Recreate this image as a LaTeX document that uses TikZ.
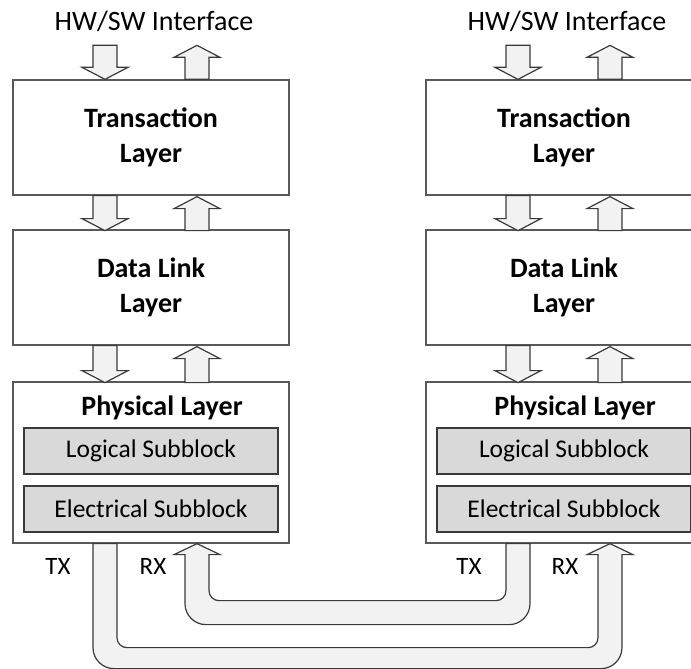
\documentclass[tikz,border=0pt]{standalone}
\usepackage{fontspec}
\setmainfont{Carlito}
\usetikzlibrary{calc}
\definecolor{boxedge}{HTML}{595959}
\definecolor{darkedge}{HTML}{3A3A3A}
\definecolor{afill}{HTML}{F2F2F2}
\definecolor{sfill}{HTML}{D9D9D9}
\tikzset{
  layerbox/.style={draw=boxedge, line width=1.3pt, fill=white, minimum width=276pt, inner sep=0pt, align=center,
    font=\bfseries\fontsize{28}{35}\selectfont},
  subblk/.style={draw=darkedge, fill=sfill, line width=1.3pt, minimum width=254pt, minimum height=46pt, inner sep=0pt,
    font=\fontsize{25.5}{30}\selectfont},
  titletext/.style={inner sep=0pt, font=\bfseries\fontsize{28}{34}\selectfont},
  lbltext/.style={inner sep=0pt, font=\fontsize{28}{34}\selectfont},
  portlbl/.style={inner sep=0pt, font=\fontsize{25}{30}\selectfont},
  blockarrow/.style={draw=darkedge, fill=afill, line width=1.2pt, line join=miter},
  pics/darr/.style={code={\draw[blockarrow] (-12,0) -- (-12,-#1+12) -- (-23,-#1+12) -- (0,-#1) -- (23,-#1+12) -- (12,-#1+12) -- (12,0) -- cycle;}},
  pics/uarr/.style={code={\draw[blockarrow] (0,0) -- (23,-12) -- (12,-12) -- (12,-#1) -- (-12,-#1) -- (-12,-12) -- (-23,-12) -- cycle;}}
}
\begin{document}
\begin{tikzpicture}[x=1pt,y=1pt]
\useasboundingbox (0,0) rectangle (691,669);
\clip (0,0) rectangle (691,669);

% left stack
\node[layerbox, minimum height=115pt] (ltl) at (151,531.5) {Transaction\\Layer};
\node[layerbox, minimum height=115pt] (ldl) at (151,381.5) {Data Link\\Layer};
\node[layerbox, minimum height=161pt] (lph) at (151,206.5) {};
\node[titletext] (lphT) at (162,261) {Physical Layer};
\node[subblk] (llog) at (151,218) {Logical Subblock};
\node[subblk] (lele) at (151,160) {Electrical Subblock};
\node[lbltext] (lif) at (154,648) {HW/SW Interface};
\node[portlbl] (ltxl) at (58,103) {TX};
\node[portlbl] (lrxl) at (153,103) {RX};

% right stack
\node[layerbox, minimum height=115pt] (rtl) at (564,531.5) {Transaction\\Layer};
\node[layerbox, minimum height=115pt] (rdl) at (564,381.5) {Data Link\\Layer};
\node[layerbox, minimum height=161pt] (rph) at (564,206.5) {};
\node[titletext] (rphT) at (575,261) {Physical Layer};
\node[subblk] (rlog) at (564,218) {Logical Subblock};
\node[subblk] (rele) at (564,160) {Electrical Subblock};
\node[lbltext] (rif) at (567,648) {HW/SW Interface};
\node[portlbl] (rtxl) at (469,103) {TX};
\node[portlbl] (rrxl) at (565,103) {RX};

% vertical block arrows
\foreach \s in {l,r}{
  \pic at ($(\s tl.north)+(-46,34)$) {darr=34};
  \pic at ($(\s tl.north)+(46,34)$) {uarr=34};
  \pic at ($(\s tl.south)+(-46,0)$) {darr=35};
  \pic at ($(\s tl.south)+(46,-1)$) {uarr=34};
  \pic at ($(\s dl.south)+(-46,0)$) {darr=37};
  \pic at ($(\s dl.south)+(46,-1)$) {uarr=36};
}

% link ports
\coordinate (ltx) at ($(lph.south)+(-46,0)$);
\coordinate (lrx) at ($(lph.south)+(46,0)$);
\coordinate (rtx) at ($(rph.south)+(-46,0)$);
\coordinate (rrx) at ($(rph.south)+(46,0)$);

% pipe: left TX -> right RX
\draw[blockarrow] ($(ltx)+(-12,0)$) -- ($(ltx)+(-12,-104)$) arc[start angle=180,end angle=270,radius=21pt]
  -- ($(rrx)+(-9,-125)$) arc[start angle=270,end angle=360,radius=21pt]
  -- ($(rrx)+(12,-11)$) -- ($(rrx)+(23,-11)$) -- (rrx) -- ($(rrx)+(-23,-11)$) -- ($(rrx)+(-12,-11)$)
  -- ($(rrx)+(-12,-94)$) arc[start angle=0,end angle=-90,radius=10pt]
  -- ($(ltx)+(22,-104)$) arc[start angle=270,end angle=180,radius=10pt]
  -- ($(ltx)+(12,0)$) -- cycle;

% pipe: right TX -> left RX
\draw[blockarrow] ($(rtx)+(12,0)$) -- ($(rtx)+(12,-60)$) arc[start angle=0,end angle=-90,radius=21pt]
  -- ($(lrx)+(9,-81)$) arc[start angle=270,end angle=180,radius=21pt]
  -- ($(lrx)+(-12,-11)$) -- ($(lrx)+(-23,-11)$) -- (lrx) -- ($(lrx)+(23,-11)$) -- ($(lrx)+(12,-11)$)
  -- ($(lrx)+(12,-47)$) arc[start angle=180,end angle=270,radius=10pt]
  -- ($(rtx)+(-22,-57)$) arc[start angle=270,end angle=360,radius=10pt]
  -- ($(rtx)+(-12,0)$) -- cycle;
\end{tikzpicture}
\end{document}
